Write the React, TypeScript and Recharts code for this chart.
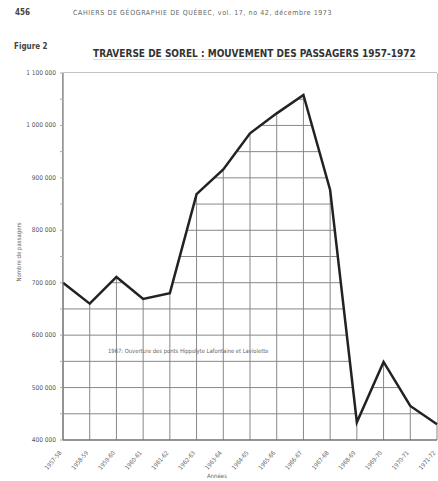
import { Line, Area, XAxis, YAxis, CartesianGrid, ComposedChart } from 'recharts';

const years = [
  '1957-58', '1958-59', '1959-60', '1960-61', '1961-62', '1962-63', '1963-64', '1964-65',
  '1965-66', '1966-67', '1967-68', '1968-69', '1969-70', '1970-71', '1971-72',
];
const passengers = [
  700000, 660000, 711000, 669000, 680000, 869000, 916000, 985000,
  1023000, 1058000, 877000, 434000, 549000, 465000, 430000,
];
const yTicks = [
  400000, 450000, 500000, 550000, 600000, 650000, 700000, 750000,
  800000, 850000, 900000, 950000, 1000000, 1050000, 1100000,
];
const yTop = 1100000;

const data = years.map((year, i) => ({
  year,
  passengers: passengers[i],
  above: [passengers[i], yTop],
}));

const fmt = (v: number) =>
  v % 100000 === 0 ? String(v).replace(/\B(?=(\d{3})+(?!\d))/g, ' ') : '';

const XTick = ({ x, y, payload }: { x?: number; y?: number; payload?: { value: string } }) => {
  const tx = (x ?? 0) - 1;
  const ty = (y ?? 0) + 5;
  return (
    <text
      x={tx}
      y={ty}
      textAnchor="end"
      fontSize={6}
      fill="#666"
      transform={`rotate(-50 ${tx} ${ty})`}
      fontFamily="DejaVu Sans Condensed"
    >
      {payload?.value}
    </text>
  );
};

const YTick = ({ x, y, payload }: { x?: number; y?: number; payload?: { value: number } }) => (
  <text x={(x ?? 0) - 2} y={(y ?? 0) + 2} textAnchor="end" fontSize={6.5} fill="#555" fontFamily="DejaVu Sans Condensed">
    {fmt(payload?.value ?? 0)}
  </text>
);

export default function App() {
  return (
    <div style={{ position: 'absolute', left: 0, top: 0, width: 438, height: 481, background: '#fff', fontFamily: 'DejaVu Sans Condensed' }}>
      <div style={{ position: 'absolute', left: 15, top: 8, fontSize: 8, fontWeight: 'bold', color: '#444' }}>456</div>
      <div style={{ position: 'absolute', left: 73, top: 9, fontSize: 7, letterSpacing: 0.6, color: '#666' }}>
        CAHIERS DE GÉOGRAPHIE DE QUÉBEC, vol. 17, no 42, décembre 1973
      </div>
      <div style={{ position: 'absolute', left: 14, top: 42, fontSize: 8, fontWeight: 'bold', color: '#444' }}>Figure 2</div>
      <div style={{ position: 'absolute', left: 93, top: 48, fontSize: 10, fontWeight: 'bold', color: '#333', borderBottom: '1px solid #ddd' }}>
        TRAVERSE DE SOREL : MOUVEMENT DES PASSAGERS 1957-1972
      </div>
      <div
        style={{
          position: 'absolute',
          left: 18,
          top: 252,
          fontSize: 6,
          color: '#666',
          transform: 'translate(-50%, -50%) rotate(-90deg)',
          whiteSpace: 'nowrap',
        }}
      >
        Nombre de passagers
      </div>
      <div style={{ position: 'absolute', left: 207, top: 472, fontSize: 6, color: '#666' }}>Années</div>
      <ComposedChart width={438} height={481} data={data} margin={{ top: 73, right: 1, left: 3, bottom: 6 }}>
        <CartesianGrid stroke="#888" strokeWidth={1} />
        <XAxis
          dataKey="year"
          interval={0}
          height={35}
          tick={<XTick />}
          tickLine={false}
          axisLine={{ stroke: '#666' }}
        />
        <YAxis
          domain={[400000, yTop]}
          ticks={yTicks}
          width={60}
          tick={<YTick />}
          tickSize={3}
          tickLine={{ stroke: '#aaa' }}
          axisLine={{ stroke: '#666' }}
          allowDataOverflow
        />
        <Area dataKey="above" type="linear" fill="#fff" fillOpacity={1} stroke="none" isAnimationActive={false} />
        <Line dataKey="passengers" type="linear" stroke="#222" strokeWidth={2.5} dot={false} isAnimationActive={false} />
      </ComposedChart>
      <div style={{ position: 'absolute', left: 108, top: 348, fontSize: 5.8, color: '#666' }}>
        1967: Ouverture des ponts Hippolyte Lafontaine et Laviolette
      </div>
    </div>
  );
}
